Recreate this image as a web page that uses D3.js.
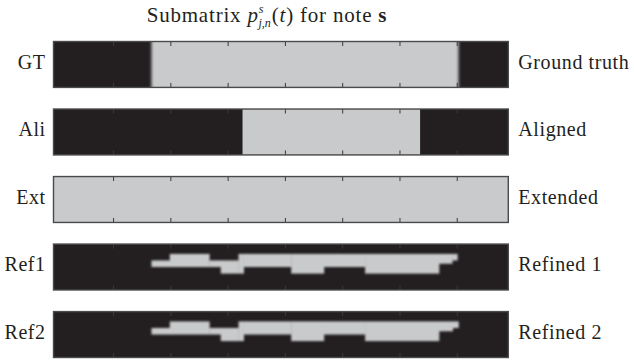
<!DOCTYPE html>
<html>
<head>
<meta charset="utf-8">
<script src="https://cdn.jsdelivr.net/npm/d3@7"></script>
<style>
  body { margin: 0; background: #fff; }
  svg text { font-family: "Liberation Serif", "DejaVu Serif", serif; fill: #231f20; }
</style>
</head>
<body>
<svg id="plot" width="634" height="362"></svg>
<script>
// rows of the figure
const shortLabels = ["GT", "Ali", "Ext", "Ref1", "Ref2"];
const longLabels = ["Ground truth", "Aligned", "Extended", "Refined 1", "Refined 2"];

// time frames, ticks every 10
const frameTicks = [10, 20, 30, 40, 50, 60, 70];

// active spans [start, end] in frames
const gtSpan = [16.7, 70.3];
const aliSpan = [32.6, 63.6];

// refined submatrix blobs: [start, end, topBin, bottomBin] on a 14 bin pitch grid
const ref1 = [
    [16.7, 19.9, 5, 7],
    [19.9, 26.8, 3, 7],
    [26.8, 28.8, 5, 7],
    [28.8, 31.9, 5, 9],
    [31.9, 32.8, 3, 9],
    [32.8, 41.1, 3, 7],
    [41.1, 46.8, 3, 9],
    [46.8, 54.0, 3, 7],
    [54.0, 66.9, 3, 9],
    [66.9, 69.2, 3, 6],
    [69.2, 70.1, 3, 5]
];
const ref2 = [
    [16.7, 19.9, 5, 7],
    [19.9, 26.8, 3, 7],
    [26.8, 28.8, 5, 7],
    [28.8, 31.9, 5, 9],
    [31.9, 32.8, 3, 9],
    [32.8, 41.1, 3, 7],
    [41.1, 46.8, 3, 9],
    [46.8, 54.0, 3, 7],
    [54.0, 66.9, 3, 9],
    [66.9, 69.3, 3, 6],
    [69.3, 70.3, 3, 5]
];

const dark = "#231f20";
const light = "#c9cacc";

const svg = d3.select("#plot");

x = d3.scaleLinear().domain([-0.4, 79]).range([53.5, 508.3]);

row = d3.scaleBand()
    .domain(shortLabels)
    .range([41.5, 357.5])
    .paddingInner(0.32);

bin = d3.scaleLinear().domain([0, 14]).range([0, row.bandwidth()]);

const [x0, x1] = x.domain();
const pw = x(x1) - x(x0);

const defs = svg.append("defs");
defs.append("filter").attr("id", "hblur")
    .attr("x", "-10%").attr("width", "120%")
    .append("feGaussianBlur").attr("stdDeviation", "1.5 0");
defs.append("filter").attr("id", "soft")
    .attr("x", "-10%").attr("y", "-30%").attr("width", "120%").attr("height", "160%")
    .append("feGaussianBlur").attr("stdDeviation", 0.9);

shortLabels.forEach((lab, i) => {
    defs.append("clipPath").attr("id", "clip" + i)
        .append("rect")
        .attr("x", x(x0)).attr("y", row(lab))
        .attr("width", pw).attr("height", row.bandwidth());
});

svg.selectAll("rect.panel")
    .data(shortLabels)
    .join("rect")
    .attr("class", "panel")
    .attr("x", x(x0))
    .attr("y", d => row(d))
    .attr("width", pw)
    .attr("height", row.bandwidth())
    .attr("fill", d => d == "Ext" ? light : dark);

// GT: edges smeared along time
svg.append("g")
    .attr("clip-path", "url(#clip0)")
    .append("rect")
    .attr("filter", "url(#hblur)")
    .attr("x", x(gtSpan[0]))
    .attr("y", row("GT"))
    .attr("width", x(gtSpan[1]) - x(gtSpan[0]))
    .attr("height", row.bandwidth())
    .attr("fill", light);

// Ali: crisp
svg.append("rect")
    .attr("x", x(aliSpan[0]))
    .attr("y", row("Ali"))
    .attr("width", x(aliSpan[1]) - x(aliSpan[0]))
    .attr("height", row.bandwidth())
    .attr("fill", light);

// refined blobs
[["Ref1", ref1, 3], ["Ref2", ref2, 4]].forEach(([lab, segs, ci]) => {
    svg.append("g")
        .attr("clip-path", `url(#clip${ci})`)
        .append("g")
        .attr("filter", "url(#soft)")
        .selectAll("rect")
        .data(segs)
        .join("rect")
        .attr("x", d => x(d[0]))
        .attr("y", d => row(lab) + bin(d[2]))
        .attr("width", d => x(d[1]) - x(d[0]) + 0.3)
        .attr("height", d => bin(d[3]) - bin(d[2]))
        .attr("fill", light);
});

// ticks and frame
shortLabels.forEach(lab => {
    const g = svg.append("g").attr("color", "#3a3a3a");
    g.append("g")
        .attr("transform", `translate(0,${row(lab)})`)
        .call(d3.axisTop(x).tickValues(frameTicks).tickSize(-4.5).tickFormat(""))
        .call(a => a.select(".domain").remove());
    g.append("g")
        .attr("transform", `translate(0,${row(lab) + row.bandwidth()})`)
        .call(d3.axisBottom(x).tickValues(frameTicks).tickSize(-4.5).tickFormat(""))
        .call(a => a.select(".domain").remove());
    g.append("rect")
        .attr("x", x(x0)).attr("y", row(lab))
        .attr("width", pw).attr("height", row.bandwidth())
        .attr("fill", "none")
        .attr("stroke", "#4a4a4a")
        .attr("stroke-width", 1.4);
});

// labels
svg.selectAll("text.left")
    .data(shortLabels)
    .join("text")
    .attr("class", "left")
    .attr("x", x(x0) - 8)
    .attr("y", d => row(d) + row.bandwidth() / 2)
    .attr("dy", "0.22em")
    .attr("text-anchor", "end")
    .attr("font-size", 20)
    .attr("letter-spacing", 0.5)
    .text(d => d);

svg.selectAll("text.right")
    .data(longLabels)
    .join("text")
    .attr("class", "right")
    .attr("x", x(x1) + 10)
    .attr("y", (d, i) => row(shortLabels[i]) + row.bandwidth() / 2)
    .attr("dy", "0.22em")
    .attr("font-size", 20)
    .attr("letter-spacing", 0.6)
    .text(d => d);

// title
const title = svg.append("text")
    .attr("x", 267)
    .attr("y", 21.5)
    .attr("text-anchor", "middle")
    .attr("font-size", 21)
    .attr("letter-spacing", 0.8);
title.append("tspan").text("Submatrix ");
title.append("tspan").attr("font-style", "italic").text("p");
title.append("tspan").attr("font-style", "italic").attr("font-size", 12).attr("dy", -9).attr("letter-spacing", 0).text("s");
title.append("tspan").attr("font-style", "italic").attr("font-size", 12).attr("dy", 14).attr("dx", -5).attr("letter-spacing", 0).text("j,n");
title.append("tspan").attr("dy", -5).attr("dx", 1).text("(");
title.append("tspan").attr("font-style", "italic").text("t");
title.append("tspan").text(") for note ");
title.append("tspan").attr("font-weight", "bold").text("s");
</script>
</body>
</html>
